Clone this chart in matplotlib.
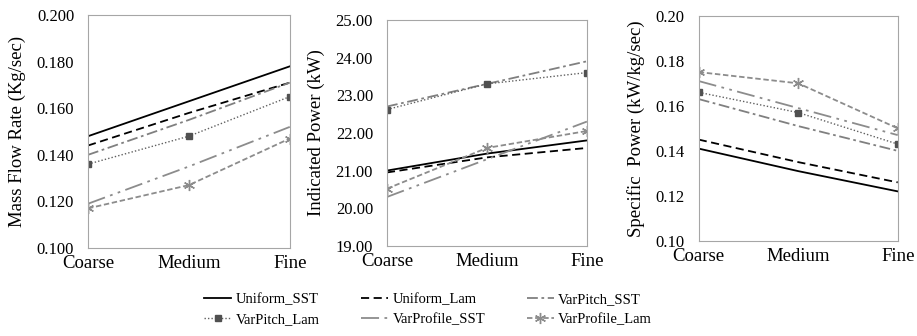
import matplotlib
matplotlib.use("Agg")
import matplotlib.pyplot as plt

plt.rcParams['font.family'] = ['Liberation Serif', 'DejaVu Serif']

categories = ["Coarse", "Medium", "Fine"]
series_names = ["Uniform_SST", "Uniform_Lam", "VarPitch_SST",
                "VarPitch_Lam", "VarProfile_SST", "VarProfile_Lam"]

# mass flow rate (Kg/sec)
mfr_uniform_sst = [0.148, 0.163, 0.178]
mfr_uniform_lam = [0.144, 0.158, 0.171]
mfr_varpitch_sst = [0.140, 0.155, 0.171]
mfr_varpitch_lam = [0.136, 0.148, 0.165]
mfr_varprofile_sst = [0.119, 0.135, 0.152]
mfr_varprofile_lam = [0.117, 0.127, 0.147]

# indicated power (kW)
ip_uniform_sst = [21.00, 21.45, 21.80]
ip_uniform_lam = [20.95, 21.35, 21.60]
ip_varpitch_sst = [22.70, 23.30, 23.90]
ip_varpitch_lam = [22.62, 23.30, 23.60]
ip_varprofile_sst = [20.30, 21.30, 22.30]
ip_varprofile_lam = [20.52, 21.60, 22.05]

# specific power (kW/kg/sec)
sp_uniform_sst = [0.141, 0.131, 0.122]
sp_uniform_lam = [0.145, 0.135, 0.126]
sp_varpitch_sst = [0.163, 0.151, 0.140]
sp_varpitch_lam = [0.166, 0.157, 0.143]
sp_varprofile_sst = [0.171, 0.159, 0.147]
sp_varprofile_lam = [0.175, 0.170, 0.150]

styles = {
    "Uniform_SST": dict(color="black", linestyle="-", lw=1.3),
    "Uniform_Lam": dict(color="black", linestyle=(0, (4.5, 2.5)), lw=1.3),
    "VarPitch_SST": dict(color="#808080", linestyle=(0, (6, 2, 1.5, 2)), lw=1.3),
    "VarPitch_Lam": dict(color="#606060", linestyle=(0, (1, 1.5)), lw=1.0,
                         marker="s", markersize=5, markerfacecolor="#505050",
                         markeredgecolor="#505050"),
    "VarProfile_SST": dict(color="#8c8c8c", linestyle=(0, (10, 3, 1.5, 3, 1.5, 3)), lw=1.3),
    "VarProfile_Lam": dict(color="#8c8c8c", linestyle=(0, (3, 1.5)), lw=1.3,
                           marker=(6, 2, 0), markersize=8, markeredgewidth=1.0),
}

panels = [
    ([0.096, 0.262, 0.220, 0.693], "Mass Flow Rate (Kg/sec)", (0.100, 0.200), 0.020, "{:.3f}",
     [mfr_uniform_sst, mfr_uniform_lam, mfr_varpitch_sst, mfr_varpitch_lam,
      mfr_varprofile_sst, mfr_varprofile_lam]),
    ([0.422, 0.268, 0.218, 0.673], "Indicated Power (kW)", (19.0, 25.0), 1.0, "{:.2f}",
     [ip_uniform_sst, ip_uniform_lam, ip_varpitch_sst, ip_varpitch_lam,
      ip_varprofile_sst, ip_varprofile_lam]),
    ([0.762, 0.283, 0.217, 0.670], "Specific  Power (kW/kg/sec)", (0.10, 0.20), 0.02, "{:.2f}",
     [sp_uniform_sst, sp_uniform_lam, sp_varpitch_sst, sp_varpitch_lam,
      sp_varprofile_sst, sp_varprofile_lam]),
]

fig = plt.figure(figsize=(9.17, 3.36), dpi=100)
handles = {}
for rect, ylabel, ylim, step, fmt, data in panels:
    ax = fig.add_axes(rect)
    x = range(len(categories))
    for name, vals in zip(series_names, data):
        ln, = ax.plot(x, vals, label=name, **styles[name])
        handles[name] = ln
    ax.set_xlim(0, len(categories) - 1)
    ax.set_ylim(*ylim)
    n = int(round((ylim[1] - ylim[0]) / step))
    ticks = [ylim[0] + i * step for i in range(n + 1)]
    ax.set_yticks(ticks)
    ax.set_yticklabels([fmt.format(t) for t in ticks], fontsize=12)
    ax.set_xticks(list(x))
    ax.set_xticklabels(categories, fontsize=13.5)
    ax.tick_params(axis="y", length=0, pad=10)
    ax.tick_params(axis="x", length=0, pad=5)
    ax.set_ylabel(ylabel, fontsize=13.5, labelpad=8)
    for sp in ax.spines.values():
        sp.set_color("#a6a6a6")

order = ["Uniform_SST", "VarPitch_Lam", "Uniform_Lam",
         "VarProfile_SST", "VarPitch_SST", "VarProfile_Lam"]
fig.legend([handles[k] for k in order], order, loc="lower center",
           bbox_to_anchor=(0.467, -0.01), ncol=3, frameon=False, fontsize=10.5,
           handlelength=1.85, handletextpad=0.3, columnspacing=2.85,
           labelspacing=0.45)

fig.savefig("out.png", dpi=100)
